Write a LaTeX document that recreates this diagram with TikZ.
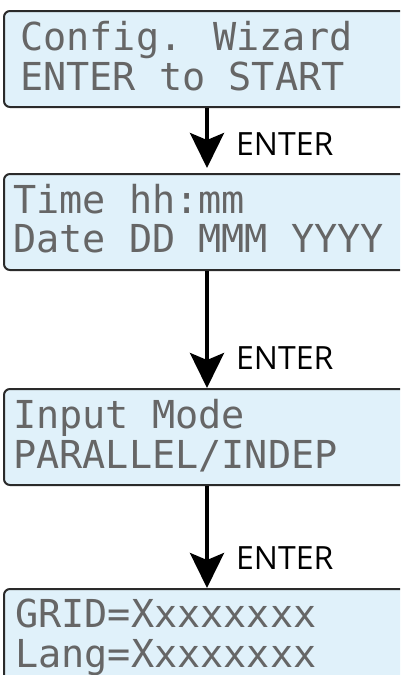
\documentclass[tikz,border=0pt]{standalone}
\usepackage{fontspec}
\usetikzlibrary{positioning, arrows.meta}
\newfontfamily\lcdfont{DejaVu Sans Mono}
\newfontfamily\keyfont{Open Sans}
\definecolor{lcdblue}{HTML}{E0F1FA}
\definecolor{lcdedge}{HTML}{2A2A2A}
\definecolor{lcddots}{HTML}{666666}
\tikzset{
  lcd/.style={draw=lcdedge, line width=2pt, fill=lcdblue, rounded corners=6pt,
    minimum width=406pt, minimum height=96pt, anchor=north west, inner sep=0pt},
  lcdtext/.style={font=\lcdfont\fontsize{38.5}{40}\selectfont, text=lcddots,
    anchor=base west, inner sep=0pt},
  keylabel/.style={font=\keyfont\fontsize{32}{34}\selectfont, anchor=base west, inner sep=0pt},
  flow/.style={line width=4pt, -{Stealth[length=35pt, width=34pt, inset=7pt]}}
}

\begin{document}
\begin{tikzpicture}[x=1pt, y=-1pt]
    \useasboundingbox (0,0) rectangle (400,675);
    \clip (0,0) rectangle (400,675);

    % LCD screens
    \node[lcd] (wizard) at (3,10) {};
    \node[lcdtext] (wizardA) at (20,50) {Config. Wizard};
    \node[lcdtext] (wizardB) at (20,90) {ENTER to START};

    \node[lcd] (clock) at (3,173) {};
    \node[lcdtext] (clockA) at (13,213) {Time hh:mm};
    \node[lcdtext] (clockB) at (13,252) {Date DD MMM YYYY};

    \node[lcd] (mode) at (3,388) {};
    \node[lcdtext] (modeA) at (13,428) {Input Mode};
    \node[lcdtext] (modeB) at (13,468) {PARALLEL/INDEP};

    \node[lcd] (grid) at (3,588) {};
    \node[lcdtext] (gridA) at (15,627) {GRID=Xxxxxxxx};
    \node[lcdtext] (gridB) at (15,667) {Lang=Xxxxxxxx};

    % ENTER steps
    \draw[flow, shorten >=5pt] (wizard.south) -- (clock.north);
    \node[keylabel] (keyA) at (236,155) {ENTER};

    \draw[flow] (clock.south) -- (mode.north);
    \node[keylabel] (keyB) at (236,369) {ENTER};

    \draw[flow] (mode.south) -- (grid.north);
    \node[keylabel] (keyC) at (236,569) {ENTER};
\end{tikzpicture}
\end{document}
